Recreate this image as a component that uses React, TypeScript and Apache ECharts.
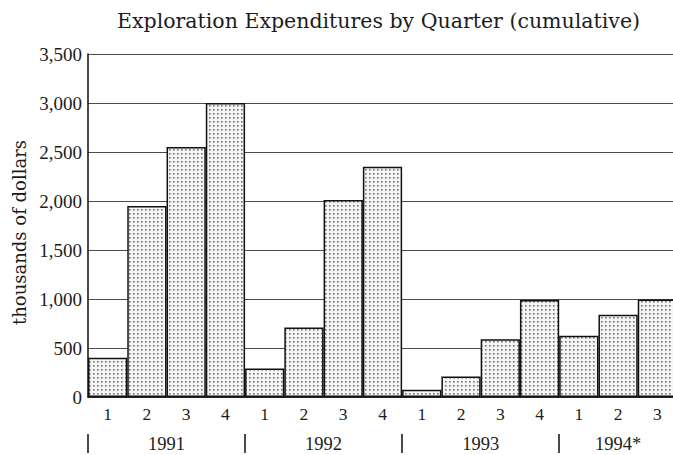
import React, { useEffect, useRef } from "react";
import * as echarts from "echarts";

// ---- data ----
const years = ["1991", "1992", "1993", "1994*"];
const quartersPerYear = [4, 4, 4, 3];
const categories = [
  "1991 Q1", "1991 Q2", "1991 Q3", "1991 Q4",
  "1992 Q1", "1992 Q2", "1992 Q3", "1992 Q4",
  "1993 Q1", "1993 Q2", "1993 Q3", "1993 Q4",
  "1994 Q1", "1994 Q2", "1994 Q3",
];
const quarterLabels = ["1", "2", "3", "4", "1", "2", "3", "4", "1", "2", "3", "4", "1", "2", "3"];
const expenditures = [400, 1950, 2550, 3000, 290, 710, 2010, 2350, 75, 210, 590, 990, 625, 840, 995];
const yMin = 0;
const yMax = 3500;
const yInterval = 500;
const titleText = "Exploration Expenditures by Quarter (cumulative)";
const yAxisName = "thousands of dollars";

const yearStarts: number[] = [];
const yearCenters: number[] = [];
{
  let s = 0;
  for (const n of quartersPerYear) {
    yearStarts.push(s);
    yearCenters.push(s + n / 2);
    s += n;
  }
}

const SERIF = "'Liberation Serif', 'Times New Roman', serif";
const WIDE_SERIF = "'DejaVu Serif', serif";
const INK = "#1c1c1c";

function makeStipple(): HTMLCanvasElement {
  const c = document.createElement("canvas");
  c.width = 4;
  c.height = 4;
  const ctx = c.getContext("2d")!;
  ctx.fillStyle = "#f5f5f5";
  ctx.fillRect(0, 0, 4, 4);
  ctx.fillStyle = "#b4b4b4";
  ctx.fillRect(1, 1, 2, 2);
  ctx.fillStyle = "#6a6a6a";
  ctx.fillRect(1, 1, 1, 1);
  return c;
}

export default function App() {
  const ref = useRef<HTMLDivElement>(null);

  useEffect(() => {
    if (!ref.current) return;
    const chart = echarts.init(ref.current, undefined, { renderer: "svg" });
    const stipple = makeStipple();
    chart.setOption({
      animation: false,
      backgroundColor: "#ffffff",
      title: {
        text: titleText,
        left: 117,
        top: 10,
        padding: 0,
        textStyle: {
          fontFamily: WIDE_SERIF,
          fontSize: 20.5,
          fontWeight: "normal",
          color: INK,
        },
      },
      grid: {
        left: 88,
        right: 13,
        top: 54,
        bottom: 58,
        containLabel: false,
        outerBoundsMode: "none",
      },
      xAxis: [
        {
          type: "category",
          data: categories,
          position: "bottom",
          axisLine: { show: true, lineStyle: { color: INK, width: 1.6 } },
          axisTick: { show: false },
          axisLabel: {
            interval: 0,
            margin: 8,
            fontFamily: SERIF,
            fontSize: 17.5,
            color: INK,
            formatter: (_v: string, i: number) => quarterLabels[i],
          },
          splitLine: { show: false },
        },
        {
          type: "value",
          min: 0,
          max: categories.length,
          position: "bottom",
          offset: 37,
          axisLine: { show: false },
          axisTick: {
            show: true,
            customValues: yearStarts,
            length: 19,
            lineStyle: { color: INK, width: 1.6 },
          },
          axisLabel: {
            show: true,
            customValues: yearCenters,
            margin: 0,
            fontFamily: SERIF,
            fontSize: 18.5,
            color: INK,
            formatter: (v: number) => {
              const i = yearCenters.indexOf(v);
              return i >= 0 ? years[i] : "";
            },
          },
          splitLine: { show: false },
        },
      ],
      yAxis: {
        type: "value",
        min: yMin,
        max: yMax,
        interval: yInterval,
        name: yAxisName,
        nameLocation: "middle",
        nameRotate: 90,
        nameGap: 58,
        nameTextStyle: {
          fontFamily: WIDE_SERIF,
          fontSize: 18,
          color: INK,
          padding: [0, 14, 0, 0],
        },
        axisLine: { show: true, lineStyle: { color: INK, width: 1.6 } },
        axisTick: { show: false },
        axisLabel: {
          margin: 6,
          fontFamily: SERIF,
          fontSize: 19,
          color: INK,
          formatter: (v: number) => v.toLocaleString("en-US"),
        },
        splitLine: { show: true, lineStyle: { color: "#4a4a4a", width: 1.2 } },
      },
      series: [
        {
          type: "bar",
          xAxisIndex: 0,
          data: expenditures,
          barWidth: "100%",
          barCategoryGap: "0%",
          itemStyle: {
            color: { image: stipple, repeat: "repeat" },
            borderColor: "#111111",
            borderWidth: 1.5,
          },
        },
      ],
    });
    return () => chart.dispose();
  }, []);

  return (
    <div
      style={{
        position: "fixed",
        left: 0,
        top: 0,
        width: 673,
        height: 455,
        overflow: "hidden",
        background: "#ffffff",
      }}
    >
      <div ref={ref} style={{ width: 690, height: 455 }} />
    </div>
  );
}
